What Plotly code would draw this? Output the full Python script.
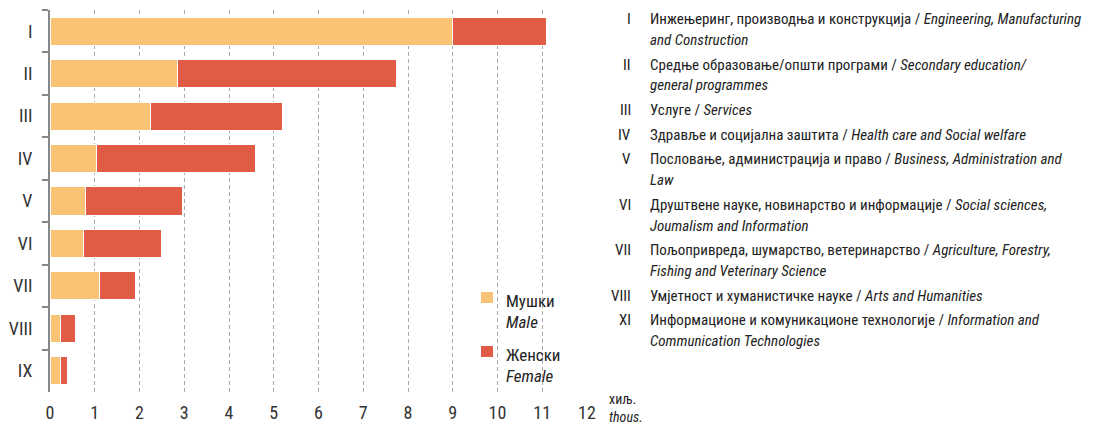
import plotly.graph_objects as go

categories = ["I", "II", "III", "IV", "V", "VI", "VII", "VIII", "IX"]
male = [9.0, 2.85, 2.25, 1.05, 0.8, 0.75, 1.1, 0.23, 0.23]
female = [2.1, 4.9, 2.95, 3.55, 2.15, 1.75, 0.8, 0.33, 0.15]
series_names = [("Мушки", "Male"), ("Женски", "Female")]
colors = ["#F9C375", "#E15C46"]
x_ticks = list(range(0, 13))
unit_label = ("хиљ.", "thous.")

desc_numerals = ["I", "II", "III", "IV", "V", "VI", "VII", "VIII", "XI"]
desc_lines = [
    ["Инжењеринг, производња и конструкција / <i>Engineering, Manufacturing</i>", "<i>and Construction</i>"],
    ["Средње образовање/општи програми / <i>Secondary education/</i>", "<i>general programmes</i>"],
    ["Услуге / <i>Services</i>"],
    ["Здравље и социјална заштита / <i>Health care and Social welfare</i>"],
    ["Пословање, администрација и право / <i>Business, Administration and</i>", "<i>Law</i>"],
    ["Друштвене науке, новинарство и информације / <i>Social sciences,</i>", "<i>Joumalism and Information</i>"],
    ["Пољопривреда, шумарство, ветеринарство / <i>Agriculture, Forestry,</i>", "<i>Fishing and Veterinary Science</i>"],
    ["Умјетност и хуманистичке науке / <i>Arts and Humanities</i>"],
    ["Информационе и комуникационе технологије / <i>Information and</i>", "<i>Communication Technologies</i>"],
]

FONT = "Liberation Sans Narrow, Arial Narrow, Roboto Condensed, Liberation Sans, sans-serif"
W, H = 1094, 424
L, R, T, B = 50, 507, 10, 32
pw, ph = W - L - R, H - T - B


def px(x):
    return (x - L) / pw


def py(y):
    return (H - B - y) / ph


fig = go.Figure()
for vals, (ru, en), c in zip([male, female], series_names, colors):
    fig.add_trace(go.Bar(
        y=categories, x=vals, orientation="h", name=ru,
        marker=dict(color=c, line=dict(color="white", width=1)),
        showlegend=False,
    ))

annotations = []
shapes = []

# manual legend
leg_y = [297.5, 351.5]
for (ru, en), c, yy in zip(series_names, colors, leg_y):
    shapes.append(dict(type="rect", xref="paper", yref="paper",
                       x0=px(481), x1=px(493), y0=py(yy + 5.5), y1=py(yy - 5.5),
                       fillcolor=c, line=dict(width=0)))
    annotations.append(dict(xref="paper", yref="paper", x=px(504), y=py(yy + 3), text=ru,
                            showarrow=False, xanchor="left", yanchor="middle",
                            font=dict(size=17, color="#222", family=FONT)))
    annotations.append(dict(xref="paper", yref="paper", x=px(504), y=py(yy + 24), text="<i>" + en + "</i>",
                            showarrow=False, xanchor="left", yanchor="middle",
                            font=dict(size=17, color="#222", family=FONT)))

# unit label (two lines in one text)
annotations.append(dict(xref="paper", yref="paper", x=px(607), y=py(408),
                        text=unit_label[0] + "<br><i>" + unit_label[1] + "</i>",
                        showarrow=False, xanchor="left", yanchor="middle", align="left",
                        font=dict(size=14, color="#222", family=FONT)))

# description list
y_pos = 19
for num, lines in zip(desc_numerals, desc_lines):
    annotations.append(dict(xref="paper", yref="paper", x=px(633), y=py(y_pos), text=num,
                            showarrow=False, xanchor="right", yanchor="middle",
                            font=dict(size=15, color="#222", family=FONT)))
    for i, ln in enumerate(lines):
        annotations.append(dict(xref="paper", yref="paper", x=px(648), y=py(y_pos + 21 * i), text=ln,
                                showarrow=False, xanchor="left", yanchor="middle",
                                font=dict(size=15, color="#222", family=FONT)))
    y_pos += 21 * (len(lines) - 1) + 24.5

fig.update_layout(
    width=W, height=H,
    margin=dict(l=L, r=R, t=T, b=B),
    barmode="stack", bargap=0.34,
    plot_bgcolor="white", paper_bgcolor="white",
    font=dict(family=FONT, color="#333", size=15),
    annotations=annotations, shapes=shapes,
    xaxis=dict(range=[0, 12], tickvals=x_ticks, ticktext=[str(v) for v in x_ticks],
               showgrid=True, gridcolor="#aaaaaa", griddash="4px,3px", gridwidth=1,
               zeroline=False, showline=False, ticks="", automargin=False,
               tickfont=dict(size=18, color="#333"), ticklabelstandoff=8),
    yaxis=dict(categoryorder="array", categoryarray=categories, autorange="reversed",
               showline=True, linecolor="#888888", linewidth=2, ticks="outside", tickson="boundaries",
               ticklen=6, tickcolor="#888888", tickwidth=2, showgrid=False, automargin=False,
               tickfont=dict(size=18, color="#333"), ticklabelstandoff=12),
)

fig.write_html("out.html", config={"displayModeBar": False})

with open("out.html", encoding="utf-8") as f:
    html = f.read()
html = html.replace("<body>", '<body style="margin:0;padding:0;overflow:hidden">', 1)
with open("out.html", "w", encoding="utf-8") as f:
    f.write(html)
